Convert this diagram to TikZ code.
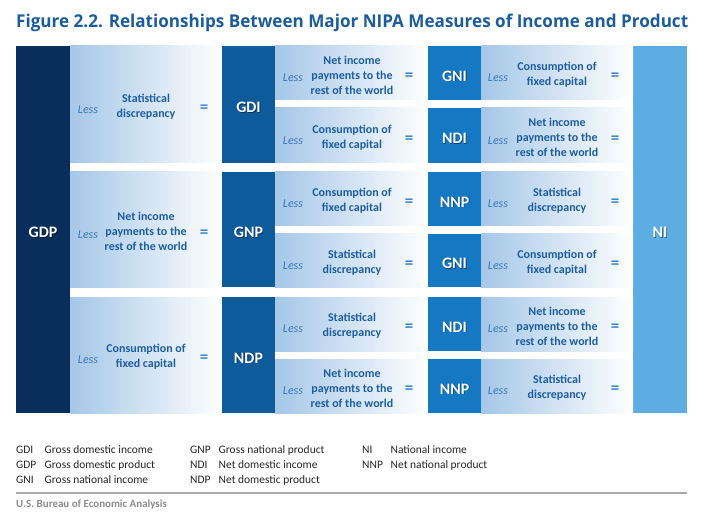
\documentclass[tikz,border=0pt]{standalone}
\usepackage{fontspec}
\setmainfont{Carlito}
\newfontfamily\headfont{Open Sans}

\definecolor{gdpcol}{HTML}{0A2E5C}
\definecolor{gdicol}{HTML}{0D5B9B}
\definecolor{gnicol}{HTML}{1479C2}
\definecolor{nicol}{HTML}{5DADE2}
\definecolor{fadecol}{HTML}{A5C7E8}
\definecolor{headcol}{HTML}{1C5C9A}
\definecolor{itemcol}{HTML}{1D5E9E}
\definecolor{lesscol}{HTML}{3A78B8}
\definecolor{eqcol}{HTML}{3E86C8}

% white measure label with a soft shadow
\newcommand{\measure}[3]{%
  \node[measure,text=black,opacity=.45,xshift=.8bp,yshift=-.8bp] at (#2) {#3};
  \node[measure] (#1) at (#2) {#3};}

\begin{document}
\begin{tikzpicture}[x=1bp,y=-1bp,
  fade/.style={left color=fadecol,right color=white},
  measure/.style={font=\fontsize{16}{16}\selectfont\bfseries,text=white,inner sep=0pt},
  item/.style={font=\fontsize{12}{15}\selectfont\bfseries,text=itemcol,align=center,inner sep=0pt},
  less/.style={font=\fontsize{12}{12}\selectfont\itshape,text=lesscol,inner sep=0pt},
  equals/.style={font=\fontsize{17}{17}\selectfont\bfseries,text=eqcol,inner sep=0pt},
  key/.style={font=\fontsize{11.5}{11.5}\selectfont,text=black!85,anchor=base west,inner sep=0pt}]

\useasboundingbox (0,0) rectangle (705,525);

% title
\node[anchor=base west,inner sep=0pt,text=headcol] (title) at (16,27.5)
  {\resizebox{672bp}{13.5bp}{\headfont\bfseries Figure 2.2. Relationships Between Major NIPA Measures of Income and Product}};

% GDP and NI columns
\fill[gdpcol] (16,46) rectangle (70,413);
\fill[nicol] (633,46) rectangle (687,413);
\measure{gdp}{43,232.5}{GDP}
\measure{ni}{660,232.5}{NI}

% first step
\foreach \name/\lbl/\top/\bot/\txt in {
  gdi/GDI/46/163/{Statistical\\discrepancy},
  gnp/GNP/172/287/{Net income\\payments to the\\rest of the world},
  ndp/NDP/297/413/{Consumption of\\fixed capital}}{
  \shade[fade] (70,\top) rectangle (222,\bot);
  \fill[gdicol] (222,\top) rectangle (275,\bot);
  \node[less] (\name-less) at (88,{(\top+\bot)/2+5}) {Less};
  \node[item] (\name-item) at (146,{(\top+\bot)/2+2}) {\txt};
  \node[equals] (\name-eq) at (204,{(\top+\bot)/2+4}) {=};
  \measure{\name}{248.5,{(\top+\bot)/2+3}}{\lbl}
}

% second and third steps
\foreach \top/\bot/\lbl/\bitem/\citem [count=\i] in {
  46/100/GNI/{Net income\\payments to the\\rest of the world}/{Consumption of\\fixed capital},
  108/163/NDI/{Consumption of\\fixed capital}/{Net income\\payments to the\\rest of the world},
  172/226/NNP/{Consumption of\\fixed capital}/{Statistical\\discrepancy},
  234/287/GNI/{Statistical\\discrepancy}/{Consumption of\\fixed capital},
  297/351/NDI/{Statistical\\discrepancy}/{Net income\\payments to the\\rest of the world},
  359/413/NNP/{Net income\\payments to the\\rest of the world}/{Statistical\\discrepancy}}{
  \shade[fade] (275,\top) rectangle (428,\bot);
  \fill[gnicol] (428,\top) rectangle (481,\bot);
  \shade[fade] (481,\top) rectangle (633,\bot);
  \node[less] (lessb\i) at (293,{(\top+\bot)/2+5}) {Less};
  \node[item] (itemb\i) at (352,{(\top+\bot)/2+2}) {\bitem};
  \node[equals] (eqb\i) at (409,{(\top+\bot)/2+4}) {=};
  \measure{step\i}{454.5,{(\top+\bot)/2+3}}{\lbl}
  \node[less] (lessc\i) at (498,{(\top+\bot)/2+5}) {Less};
  \node[item] (itemc\i) at (557,{(\top+\bot)/2+2}) {\citem};
  \node[equals] (eqc\i) at (615,{(\top+\bot)/2+4}) {=};
}

% key
\foreach \x/\y/\abbr/\full [count=\i] in {
  16/453/GDI/Gross domestic income, 16/468/GDP/Gross domestic product,
  16/483/GNI/Gross national income, 190/453/GNP/Gross national product,
  190/468/NDI/Net domestic income, 190/483/NDP/Net domestic product,
  362/453/NI/National income, 362/468/NNP/Net national product}{
  \node[key] (abbr\i) at (\x,\y) {\abbr};
  \node[key] (full\i) at (\x+28.5,\y) {\full};
}

% source
\draw[line width=1.5bp,black!33] (16,493) -- (687,493);
\node[anchor=base west,inner sep=0pt,text=black!45,font=\fontsize{11}{11}\selectfont\bfseries] (source) at (16,507)
  {U.S. Bureau of Economic Analysis};
\end{tikzpicture}
\end{document}
